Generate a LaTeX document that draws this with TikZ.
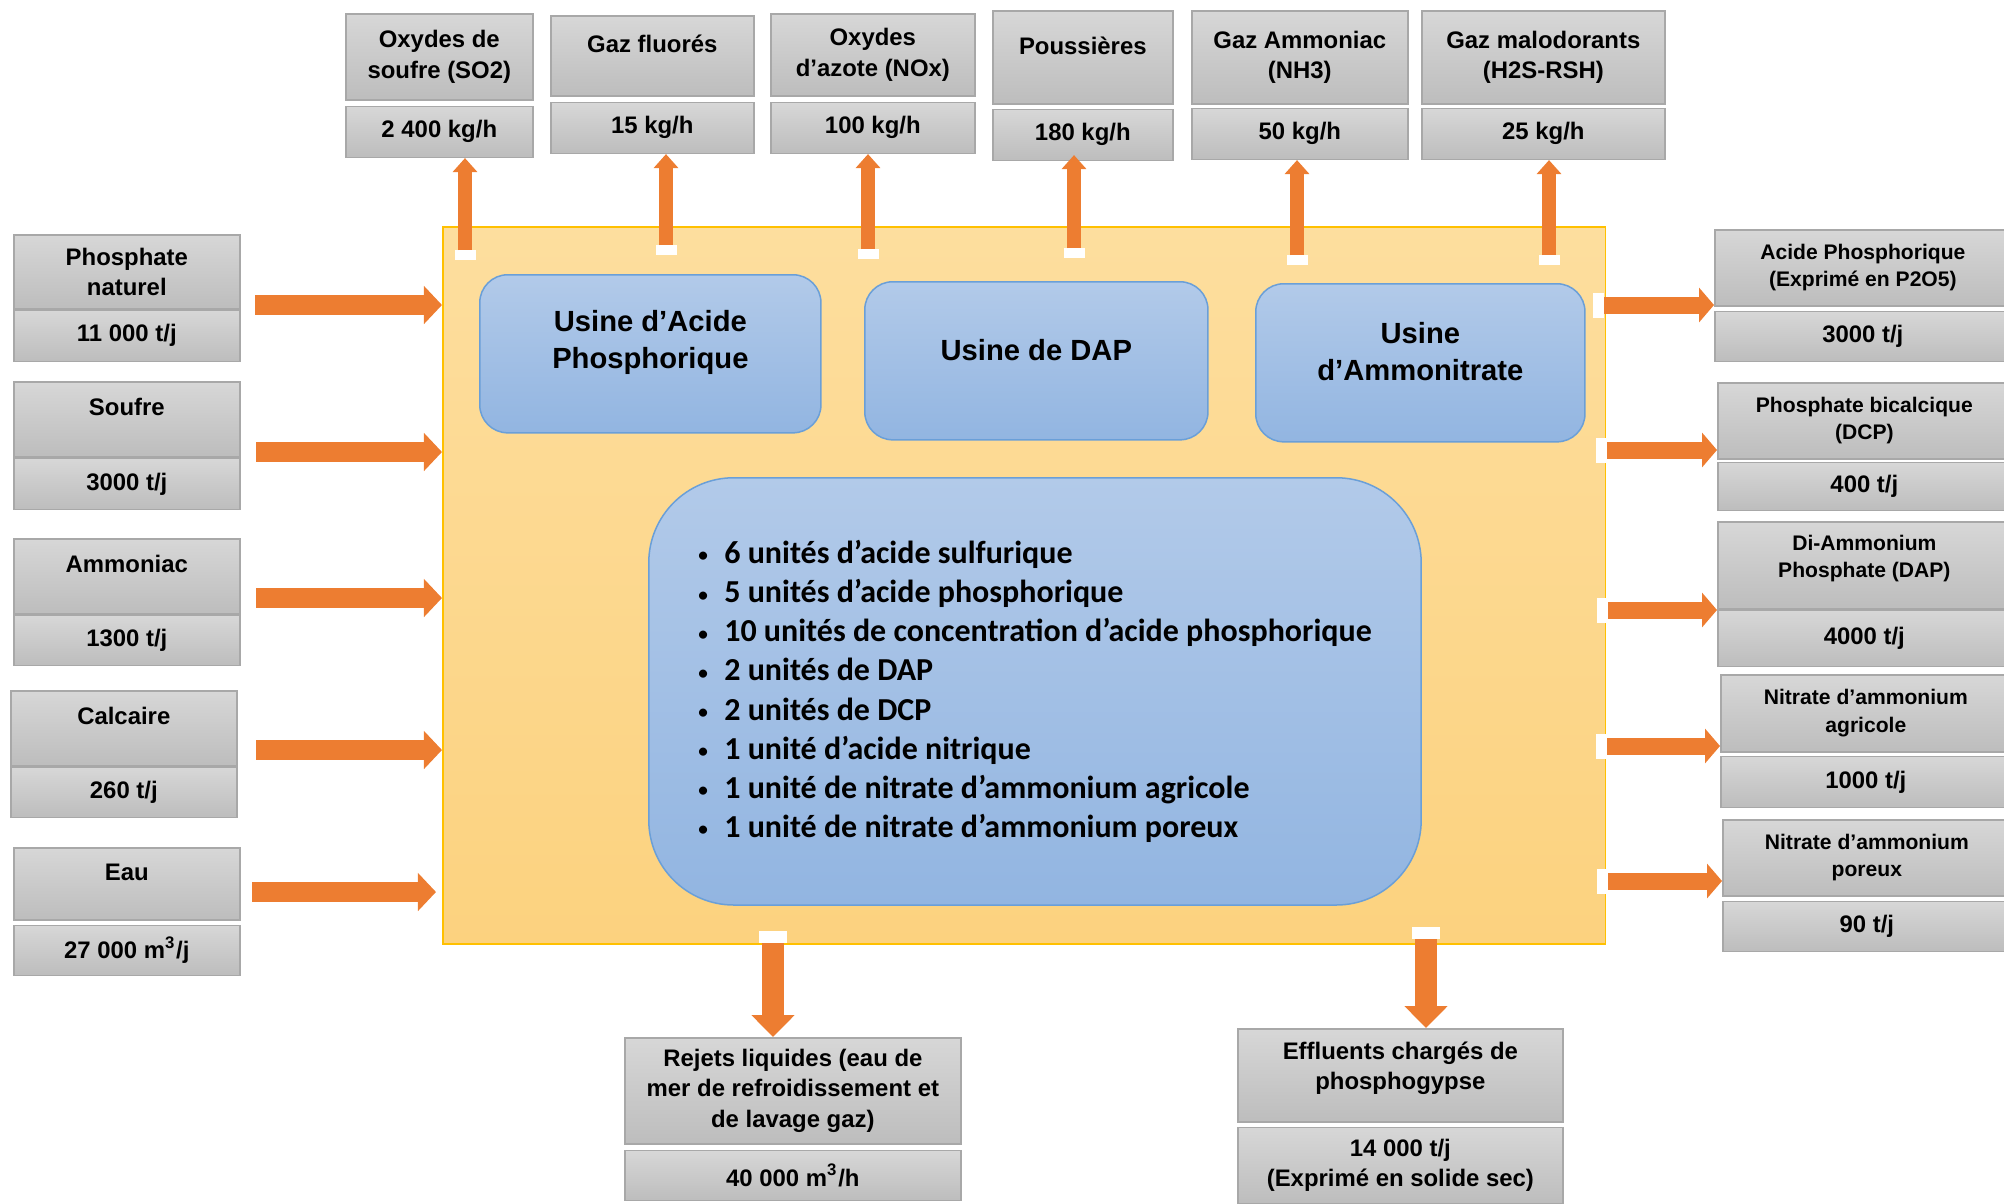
\documentclass[tikz,border=0pt]{standalone}
\usepackage{graphicx}
\usepackage{fontspec}
\setmainfont{Liberation Sans}
\newfontfamily\listfont{Carlito}
\usetikzlibrary{arrows.meta,calc,positioning}
\definecolor{gtop}{HTML}{D7D7D7}
\definecolor{gbot}{HTML}{BDBDBD}
\definecolor{gedge}{HTML}{A8A8A8}
\definecolor{ptop}{HTML}{FDDE9E}
\definecolor{pbot}{HTML}{FCD27F}
\definecolor{pedge}{HTML}{FFC000}
\definecolor{btop}{HTML}{B2CAE9}
\definecolor{bbot}{HTML}{92B5E1}
\definecolor{bedge}{HTML}{6A9FD8}
\definecolor{flow}{HTML}{ED7D31}
\newcommand{\unitbullet}{\makebox[0.26cm][l]{\raisebox{0.06em}{\scalebox{0.6}{\textbullet}}}}
\tikzset{%
	graybox/.style  = {draw=gedge, line width=0.015cm, top color=gtop, bottom color=gbot, inner sep=0pt, align=center, anchor=north west, font=\bfseries\fontsize{6.8}{8.6}\selectfont},
	prodbox/.style  = {graybox, font=\bfseries\fontsize{6}{7.8}\selectfont},
	oneline/.style  = {text depth=0.24cm},
	plant/.style    = {draw=pedge, line width=0.015cm, top color=ptop, bottom color=pbot, anchor=north west, inner sep=0pt},
	usine/.style    = {draw=bedge, line width=0.015cm, top color=btop, bottom color=bbot, rounded corners=0.28cm, anchor=north west, align=center, font=\bfseries\fontsize{8.3}{10.5}\selectfont},
	upflow/.style   = {draw=flow, line width=0.14cm, -{Triangle[width=0.24cm,length=0.14cm]}},
	inflow/.style   = {draw=flow, line width=0.20cm, -{Triangle[width=0.37cm,length=0.18cm]}},
	outflow/.style  = {draw=flow, line width=0.17cm, -{Triangle[width=0.34cm,length=0.15cm]}},
	downflow/.style = {draw=flow, line width=0.22cm, -{Triangle[width=0.42cm,length=0.22cm]}},
}
\begin{document}
\begin{tikzpicture}[x=0.01cm, y=-0.01cm]
	\useasboundingbox (0,0) rectangle (2004,1203);
	\node[plant, minimum width=11.62cm, minimum height=7.17cm] (plant) at (442,226) {};
	
	\node[usine, text depth=0.28cm, minimum width=3.41cm, minimum height=1.58cm] (usap) at (479,274) {Usine d’Acide\\Phosphorique};
	\node[usine, text depth=0.22cm, minimum width=3.43cm, minimum height=1.58cm] (usdap) at (864,281) {Usine de DAP};
	\node[usine, text depth=0.22cm, minimum width=3.29cm, minimum height=1.58cm] (usan) at (1255,283) {Usine\\d’Ammonitrate};
	\node[usine, rounded corners=0.85cm, align=left, minimum width=7.72cm, minimum height=4.27cm, font=\listfont\bfseries\fontsize{9.1}{11.1}\selectfont] (units) at (648,477) {%
		\unitbullet6 unités d’acide sulfurique\\
		\unitbullet5 unités d’acide phosphorique\\
		\unitbullet10 unités de concentration d’acide phosphorique\\
		\unitbullet2 unités de DAP\\
		\unitbullet2 unités de DCP\\
		\unitbullet1 unité d’acide nitrique\\
		\unitbullet1 unité de nitrate d’ammonium agricole\\
		\unitbullet1 unité de nitrate d’ammonium poreux};
	
	\node[graybox, minimum width=1.87cm, minimum height=0.86cm] (so2) at (345,13) {Oxydes de\\soufre (SO2)};
	\node[graybox, minimum width=1.87cm, minimum height=0.51cm, below=0.05cm of so2] (so2v) {2 400 kg/h};
	\node[graybox, oneline, minimum width=2.03cm, minimum height=0.80cm] (fluor) at (550,15) {Gaz fluorés};
	\node[graybox, minimum width=2.03cm, minimum height=0.51cm, below=0.05cm of fluor] (fluorv) {15 kg/h};
	\node[graybox, minimum width=2.04cm, minimum height=0.82cm] (nox) at (770,13) {Oxydes\\d’azote (NOx)};
	\node[graybox, minimum width=2.04cm, minimum height=0.51cm, below=0.05cm of nox] (noxv) {100 kg/h};
	\node[graybox, oneline, minimum width=1.80cm, minimum height=0.93cm] (dust) at (992,10) {Poussières};
	\node[graybox, minimum width=1.80cm, minimum height=0.51cm, below=0.04cm of dust] (dustv) {180 kg/h};
	\node[graybox, minimum width=2.16cm, minimum height=0.93cm] (nh3) at (1191,10) {Gaz Ammoniac\\(NH3)};
	\node[graybox, minimum width=2.16cm, minimum height=0.51cm, below=0.03cm of nh3] (nh3v) {50 kg/h};
	\node[graybox, minimum width=2.43cm, minimum height=0.93cm] (h2s) at (1421,10) {Gaz malodorants\\(H2S-RSH)};
	\node[graybox, minimum width=2.43cm, minimum height=0.51cm, below=0.03cm of h2s] (h2sv) {25 kg/h};
	
	\node[graybox, minimum width=2.26cm, minimum height=0.74cm] (phos) at (13,234) {Phosphate\\naturel};
	\node[graybox, minimum width=2.26cm, minimum height=0.51cm, below=0cm of phos] (phosv) {11 000 t/j};
	\node[graybox, oneline, minimum width=2.26cm, minimum height=0.75cm] (soufre) at (13,381) {Soufre};
	\node[graybox, minimum width=2.26cm, minimum height=0.51cm, below=0cm of soufre] (soufrev) {3000 t/j};
	\node[graybox, oneline, minimum width=2.26cm, minimum height=0.75cm] (amm) at (13,538) {Ammoniac};
	\node[graybox, minimum width=2.26cm, minimum height=0.50cm, below=0cm of amm] (ammv) {1300 t/j};
	\node[graybox, oneline, minimum width=2.26cm, minimum height=0.75cm] (calc) at (10,690) {Calcaire};
	\node[graybox, minimum width=2.26cm, minimum height=0.50cm, below=0cm of calc] (calcv) {260 t/j};
	\node[graybox, oneline, minimum width=2.26cm, minimum height=0.72cm] (eau) at (13,847) {Eau};
	\node[graybox, minimum width=2.26cm, minimum height=0.50cm, below=0.04cm of eau] (eauv) {27 000 m\textsuperscript{3}/j};
	
	\node[prodbox, minimum width=2.96cm, minimum height=0.76cm] (acide) at (1714,229) {Acide Phosphorique\\(Exprimé en P2O5)};
	\node[graybox, minimum width=2.96cm, minimum height=0.50cm, below=0.04cm of acide] (acidev) {3000 t/j};
	\node[prodbox, minimum width=2.93cm, minimum height=0.76cm] (dcp) at (1717,382) {Phosphate bicalcique\\(DCP)};
	\node[graybox, minimum width=2.93cm, minimum height=0.48cm, below=0.02cm of dcp] (dcpv) {400 t/j};
	\node[prodbox, text depth=0.18cm, minimum width=2.93cm, minimum height=0.87cm] (dap) at (1717,521) {Di-Ammonium\\Phosphate (DAP)};
	\node[graybox, minimum width=2.93cm, minimum height=0.56cm, below=0cm of dap] (dapv) {4000 t/j};
	\node[prodbox, minimum width=2.90cm, minimum height=0.77cm] (nag) at (1720,674) {Nitrate d’ammonium\\agricole};
	\node[graybox, minimum width=2.90cm, minimum height=0.51cm, below=0.03cm of nag] (nagv) {1000 t/j};
	\node[prodbox, minimum width=2.88cm, minimum height=0.76cm] (npo) at (1722,819) {Nitrate d’ammonium\\poreux};
	\node[graybox, minimum width=2.88cm, minimum height=0.50cm, below=0.04cm of npo] (npov) {90 t/j};
	
	\node[graybox, minimum width=3.36cm, minimum height=1.06cm] (rejets) at (624,1037) {Rejets liquides (eau de\\mer de refroidissement et\\de lavage gaz)};
	\node[graybox, minimum width=3.36cm, minimum height=0.50cm, below=0.05cm of rejets] (rejetsv) {40 000 m\textsuperscript{3}/h};
	\node[graybox, text depth=0.19cm, minimum width=3.25cm, minimum height=0.93cm] (efflu) at (1237,1028) {Effluents chargés de\\phosphogypse};
	\node[graybox, minimum width=3.25cm, minimum height=0.76cm, below=0.04cm of efflu] (effluv) {14 000 t/j\\(Exprimé en solide sec)};
	
	\coordinate (em1) at (465,250);
	\coordinate (em2) at (666,245);
	\coordinate (em3) at (868,249);
	\coordinate (em4) at (1074,248);
	\coordinate (em5) at (1297,255);
	\coordinate (em6) at (1549,255);
	\foreach \e in {em1,em2,em3,em4,em5,em6}
		\fill[white] (\e) ++(-10.5,0) rectangle ++(21,10);
	\draw[upflow] (em1) -- (em1 |- so2v.south);
	\draw[upflow] (em2) -- (em2 |- fluorv.south);
	\draw[upflow] (em3) -- (em3 |- noxv.south);
	\draw[upflow] (em4) -- ($(em4 |- dustv.south)+(0,-6)$);
	\draw[upflow] (em5) -- (em5 |- nh3v.south);
	\draw[upflow] (em6) -- (em6 |- h2sv.south);
	
	\coordinate (in1) at (255,305);
	\coordinate (in2) at (256,452);
	\coordinate (in3) at (256,598);
	\coordinate (in4) at (256,750);
	\coordinate (in5) at (252,892);
	\draw[inflow] (in1) -- (in1 -| plant.west);
	\draw[inflow] (in2) -- (in2 -| plant.west);
	\draw[inflow] (in3) -- (in3 -| plant.west);
	\draw[inflow] (in4) -- (in4 -| plant.west);
	\draw[inflow] (in5) -- ($(in5 -| plant.west)+(-6,0)$);
	
	\coordinate (out1) at (1604,305);
	\coordinate (out2) at (1607,450);
	\coordinate (out3) at (1608,610);
	\coordinate (out4) at (1607,746);
	\coordinate (out5) at (1608,881);
	\foreach \o in {out1,out2,out3,out4,out5}
		\fill[white] (\o) ++(-11,-12.5) rectangle ++(11,25);
	\draw[outflow] (out1) -- (out1 -| acide.west);
	\draw[outflow] (out2) -- (out2 -| dcp.west);
	\draw[outflow] (out3) -- (out3 -| dap.west);
	\draw[outflow] (out4) -- (out4 -| nag.west);
	\draw[outflow] (out5) -- (out5 -| npo.west);
	
	\coordinate (ef1) at (773,943);
	\coordinate (ef2) at (1426,939);
	\fill[white] (ef1) ++(-14,-12) rectangle ++(28,12);
	\fill[white] (ef2) ++(-14,-12) rectangle ++(28,12);
	\draw[downflow] (ef1) -- (ef1 |- rejets.north);
	\draw[downflow] (ef2) -- (ef2 |- efflu.north);
\end{tikzpicture}
\end{document}
